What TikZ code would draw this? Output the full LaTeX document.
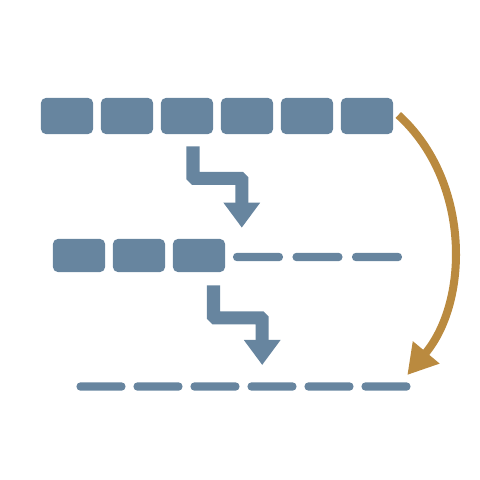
\documentclass[tikz,border=0pt]{standalone}
\usetikzlibrary{arrows.meta,calc}
\definecolor{slate}{HTML}{67859F}
\definecolor{amber}{HTML}{BA8A3F}

\begin{document}
\begin{tikzpicture}[x=0.025cm, y=-0.025cm,
  block/.style={rectangle,fill=slate,rounded corners=0.12cm,minimum width=1.3cm,inner sep=0pt},
  gap/.style={rectangle,fill=slate,rounded corners=0.1cm,minimum height=0.21cm,inner sep=0pt},
  stepdown/.style={draw=slate,line width=9.25pt,rounded corners=0.04cm,-{Triangle[length=17.8pt,width=24.9pt]}},
  jump/.style={draw=amber,line width=5.7pt,-{Triangle[length=21pt,width=23.3pt]}}]
  \useasboundingbox (0,0) rectangle (480,480);

  % Full row
  \foreach \i in {1,...,6} {
    \node[block,minimum height=0.9cm] (T\i) at (7+60*\i,116) {};
  }

  % Partial row
  \foreach \i in {1,2,3} {
    \node[block,minimum height=0.825cm] (M\i) at (19+60*\i,255.5) {};
  }
  \foreach \i in {1,2,3} {
    \node[gap,minimum width=1.25cm] (MG\i) at (198.5+59.5*\i,257) {};
  }

  % Empty row
  \foreach \i in {1,...,6} {
    \node[gap,minimum width=1.225cm] (B\i) at (44+57*\i,386.5) {};
  }

  % Step arrows
  \coordinate (s1) at ($(T3.south)+(6,12)$);
  \coordinate (e1) at ($(M3.north east)+(16.5,-11)$);
  \draw[stepdown] (s1) -- ++(0,32) -| (e1);

  \coordinate (s2) at ($(M3.south)+(14.5,13)$);
  \coordinate (e2) at ($(B4.north west)+(15,-17)$);
  \draw[stepdown] (s2) -- ++(0,32.5) -| (e2);

  % Jump arrow
  \coordinate (j0) at ($(T6.east)+(5,-1)$);
  \coordinate (j1) at ($(B6.north east)+(-3.5,-7)$);
  \draw[jump] (j0) .. controls (470,180) and (470,300) .. (j1);
\end{tikzpicture}
\end{document}
